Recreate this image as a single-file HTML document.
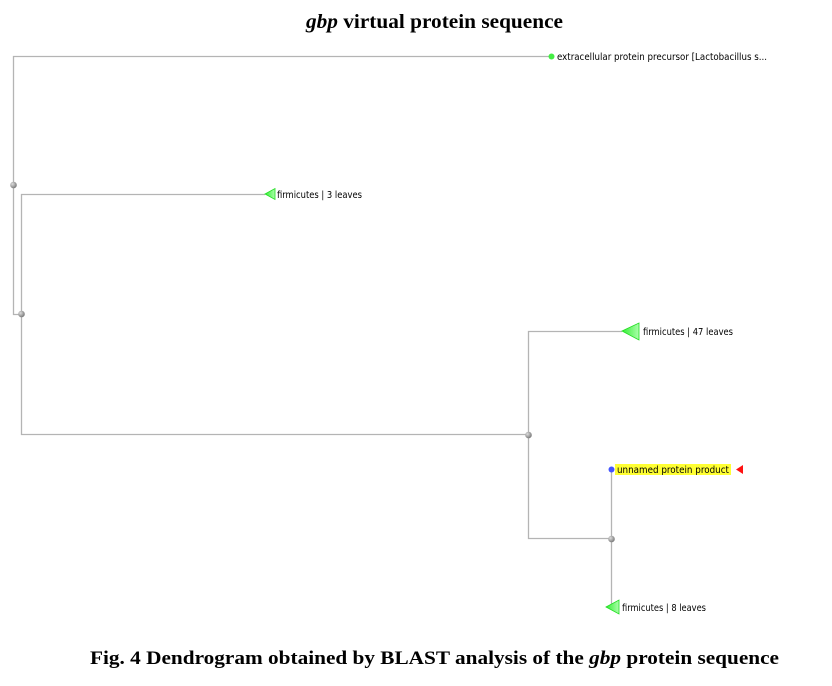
<!DOCTYPE html>
<html><head><meta charset="utf-8"><style>
html,body{margin:0;padding:0;background:#fff;}
svg{display:block;}
.l{font-family:"DejaVu Sans Condensed","DejaVu Sans","Liberation Sans",sans-serif;font-size:9.5px;fill:#000;}
.t{font-family:"Liberation Serif",serif;font-weight:bold;fill:#000;}
</style></head><body>
<svg width="832" height="686" viewBox="0 0 832 686" xmlns="http://www.w3.org/2000/svg">
<defs>
<radialGradient id="g" cx="35%" cy="35%" r="70%"><stop offset="0" stop-color="#ddd"/><stop offset="1" stop-color="#777"/></radialGradient>
<linearGradient id="tri" x1="0" x2="1"><stop offset="0" stop-color="#33ee33"/><stop offset="1" stop-color="#aaffaa"/></linearGradient>
</defs>
<text class="t" x="306" y="28" font-size="20" textLength="257" lengthAdjust="spacingAndGlyphs"><tspan font-style="italic">gbp</tspan> virtual protein sequence</text>
<g stroke="#b4b4b4" stroke-width="1.3" fill="none">
<path d="M551 56.5H13.5V314.5H21"/>
<path d="M265 194.5H21.5V434.5H528"/>
<path d="M622 331.5H528.5V538.5H611"/>
<path d="M611.5 469V607H606"/>
</g>
<circle cx="13.5" cy="185" r="3.3" fill="url(#g)"/>
<circle cx="21.5" cy="314" r="3.3" fill="url(#g)"/>
<circle cx="528.5" cy="435" r="3.3" fill="url(#g)"/>
<circle cx="611.5" cy="539" r="3.3" fill="url(#g)"/>
<circle cx="551.5" cy="56.5" r="3" fill="#44ee44"/>
<circle cx="611.5" cy="469.5" r="3" fill="#4455ff"/>
<polygon points="265,194 275,188.5 275,199.5" fill="url(#tri)" stroke="#22dd22" stroke-width="0.8"/>
<polygon points="622,331 639,323 639,340" fill="url(#tri)" stroke="#22dd22" stroke-width="0.8"/>
<polygon points="606,607 619,600 619,614" fill="url(#tri)" stroke="#22dd22" stroke-width="0.8"/>
<rect x="615" y="464" width="116" height="11" fill="#ffff33"/>
<polygon points="736,469.5 743,465 743,474" fill="#ff1111"/>
<text class="l" x="557" y="60" textLength="210" lengthAdjust="spacingAndGlyphs">extracellular protein precursor [Lactobacillus s...</text>
<text class="l" x="277" y="198" textLength="85" lengthAdjust="spacingAndGlyphs">firmicutes | 3 leaves</text>
<text class="l" x="643" y="335" textLength="90" lengthAdjust="spacingAndGlyphs">firmicutes | 47 leaves</text>
<text class="l" x="617" y="473" textLength="112" lengthAdjust="spacingAndGlyphs">unnamed protein product</text>
<text class="l" x="622" y="611" textLength="84" lengthAdjust="spacingAndGlyphs">firmicutes | 8 leaves</text>
<text class="t" x="90" y="664" font-size="19" textLength="689" lengthAdjust="spacingAndGlyphs">Fig. 4 Dendrogram obtained by BLAST analysis of the <tspan font-style="italic">gbp</tspan> protein sequence</text>
</svg>
</body></html>
